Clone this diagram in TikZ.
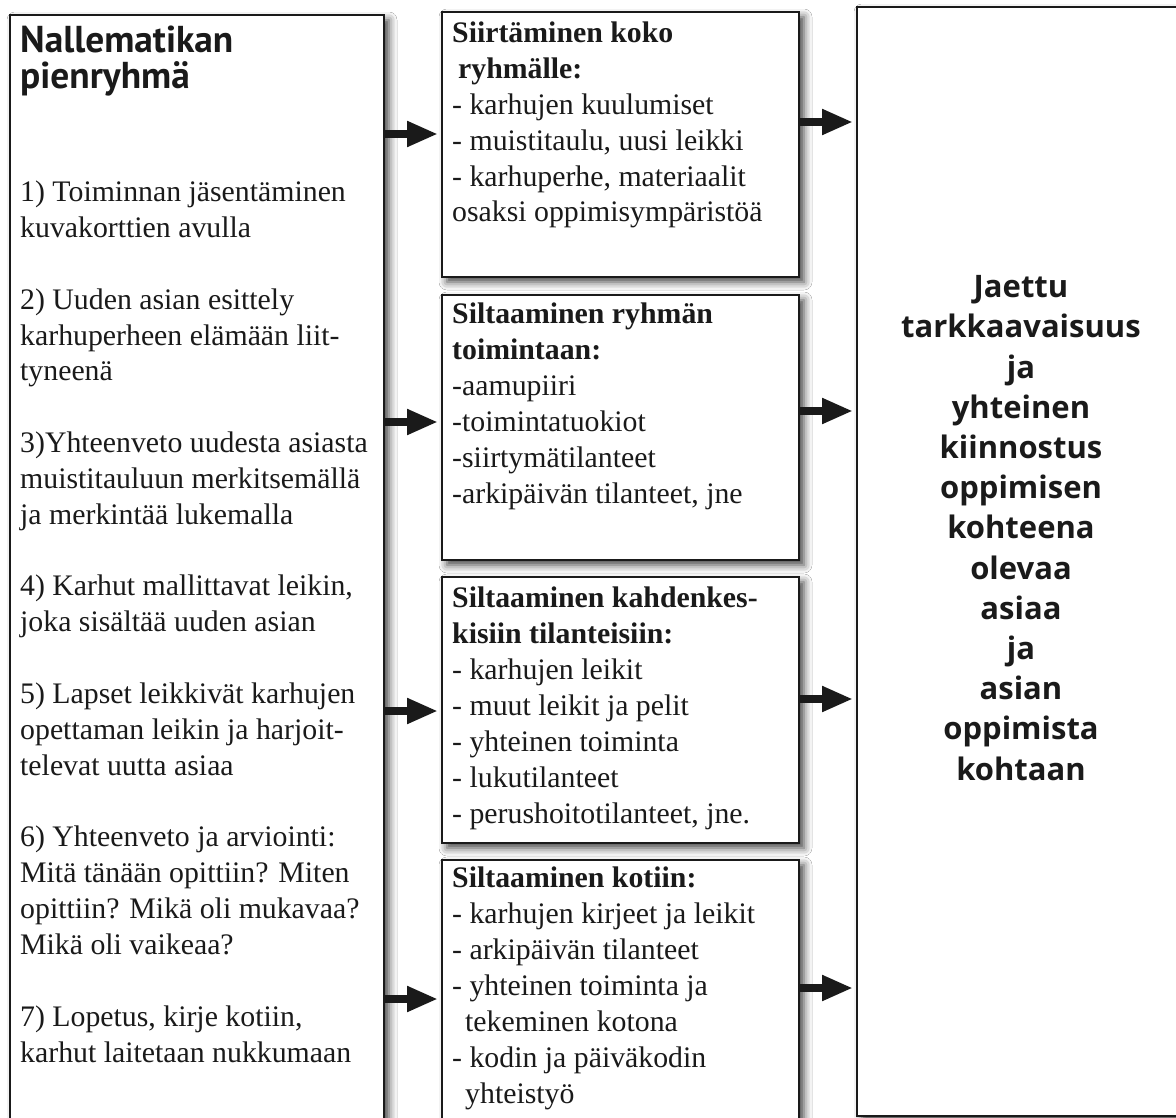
\documentclass[tikz,border=0pt]{standalone}
\usepackage{fontspec}
\setmainfont{Liberation Serif}
\newfontfamily\hsans{Open Sans}
\newfontfamily\hhead{PT Sans}
\usetikzlibrary{arrows.meta,shadows.blur}
\definecolor{ink}{HTML}{1A1A1A}
\begin{document}
\begin{tikzpicture}[x=1pt,y=-1pt,
  box/.style={draw=ink,line width=2.4pt,fill=white,rectangle,inner sep=0pt,outer sep=0pt,anchor=north west,
    blur shadow={shadow xshift=5pt,shadow yshift=-5pt,shadow blur radius=8pt,shadow opacity=75}},
  arr/.style={draw=ink,line width=8pt,-{Triangle[length=31pt,width=24pt]},shorten >=4pt},
  serif/.style={text=ink,inner sep=0pt,align=left,anchor=base west,font=\fontsize{29.8pt}{35.85pt}\selectfont},
  sanshead/.style={text=ink,inner sep=0pt,align=left,anchor=base west,font=\hhead\bfseries\fontsize{37.4pt}{36pt}\selectfont},
  sansctr/.style={text=ink,inner sep=0pt,align=center,anchor=base,font=\hsans\bfseries\fontsize{31pt}{40.2pt}\selectfont}
]
\useasboundingbox (0,0) rectangle (1176,1118);
\fill[white] (0,0) rectangle (1176,1118);

% boxes
\node[box,minimum width=374pt,minimum height=1120pt] (L) at (10,15) {};
\node[box,minimum width=357pt,minimum height=265pt] (M1) at (442,12) {};
\node[box,minimum width=357pt,minimum height=265pt] (M2) at (442,295) {};
\node[box,minimum width=357pt,minimum height=266pt] (M3) at (442,577) {};
\node[box,minimum width=357pt,minimum height=270pt] (M4) at (442,860) {};
\node[box,minimum width=329pt,minimum height=1109pt] (R) at (857,7) {};

% left text (anchored at the baseline of the last line)
\node[sanshead] (Lh) at (20,89) {Nallematikan\\pienryhmä};
\node[serif] (Lb) at (20,1062) {1) Toiminnan jäsentäminen\\kuvakorttien avulla\\[35.85pt]
2) Uuden asian esittely\\karhuperheen elämään liit-\\tyneenä\\[35.85pt]
3)Yhteenveto uudesta asiasta\\muistitauluun merkitsemällä\\ja merkintää lukemalla\\[35.85pt]
4) Karhut mallittavat leikin,\\joka sisältää uuden asian\\[35.85pt]
5) Lapset leikkivät karhujen\\opettaman leikin ja harjoit-\\televat uutta asiaa\\[35.85pt]
6) Yhteenveto ja arviointi:\\Mitä tänään opittiin? Miten\\opittiin? Mikä oli mukavaa?\\Mikä oli vaikeaa?\\[35.85pt]
7) Lopetus, kirje kotiin,\\karhut laitetaan nukkumaan};

% middle texts
\node[serif] (T1) at (452,222) {\textbf{Siirtäminen koko}\\\hspace{6pt}\textbf{ryhmälle:}\\- karhujen kuulumiset\\- muistitaulu, uusi leikki\\- karhuperhe, materiaalit\\osaksi oppimisympäristöä};
\node[serif] (T2) at (452,503) {\textbf{Siltaaminen ryhmän}\\\textbf{toimintaan:}\\-aamupiiri\\-toimintatuokiot\\-siirtymätilanteet\\-arkipäivän tilanteet, jne};
\node[serif] (T3) at (452,823) {\textbf{Siltaaminen kahdenkes-}\\\textbf{kisiin tilanteisiin:}\\- karhujen leikit\\- muut leikit ja pelit\\- yhteinen toiminta\\- lukutilanteet\\- perushoitotilanteet, jne.};
\node[serif] (T4) at (452,1103) {\textbf{Siltaaminen kotiin:}\\- karhujen kirjeet ja leikit\\- arkipäivän tilanteet\\- yhteinen toiminta ja\\\hspace{13pt}tekeminen kotona\\- kodin ja päiväkodin\\\hspace{13pt}yhteistyö};

% right text
\node[sansctr] (Rt) at (1021,780) {Jaettu\\tarkkaavaisuus\\ja\\yhteinen\\kiinnostus\\oppimisen\\kohteena\\olevaa\\asiaa\\ja\\asian\\oppimista\\kohtaan};

% arrows left -> middle
\coordinate (a1) at ([yshift=10.5pt]M1.west);
\coordinate (a2) at ([yshift=5.5pt]M2.west);
\coordinate (a3) at ([yshift=-1pt]M3.west);
\coordinate (a4) at ([yshift=-4pt]M4.west);
\draw[arr] (L.east |- a1) -- (a1);
\draw[arr] (L.east |- a2) -- (a2);
\draw[arr] (L.east |- a3) -- (a3);
\draw[arr] (L.east |- a4) -- (a4);
% arrows middle -> right
\coordinate (b1) at ([yshift=22.5pt]M1.east);
\coordinate (b2) at ([yshift=16.5pt]M2.east);
\coordinate (b3) at ([yshift=11pt]M3.east);
\coordinate (b4) at ([yshift=7pt]M4.east);
\draw[arr] (b1) -- (R.west |- b1);
\draw[arr] (b2) -- (R.west |- b2);
\draw[arr] (b3) -- (R.west |- b3);
\draw[arr] (b4) -- (R.west |- b4);
\end{tikzpicture}
\end{document}
